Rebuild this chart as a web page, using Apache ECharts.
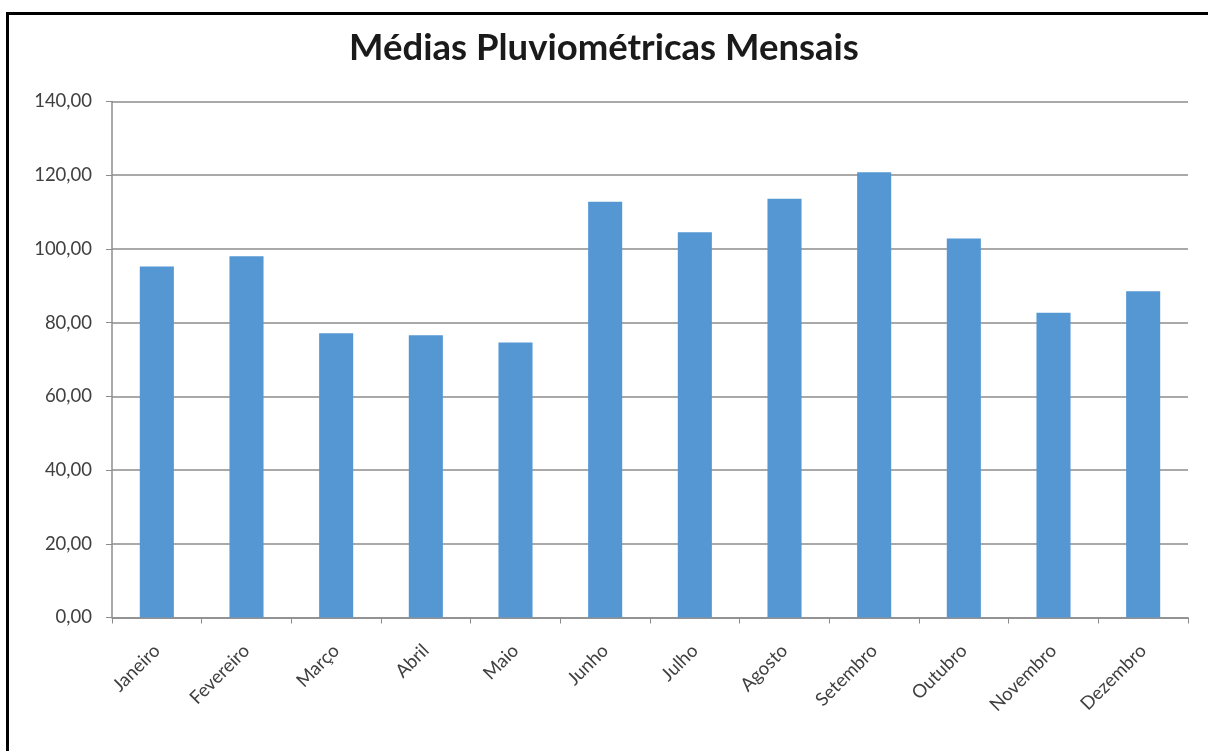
<!DOCTYPE html>
<html>
<head>
<meta charset="utf-8">
<script src="https://cdn.jsdelivr.net/npm/echarts@6/dist/echarts.min.js"></script>
<style>
  html, body { margin: 0; padding: 0; background: #fff; }
  #chart { width: 1208px; height: 751px; }
</style>
</head>
<body>
<div id="chart"></div>
<script>
// Monthly average rainfall
const months = ['Janeiro', 'Fevereiro', 'Março', 'Abril', 'Maio', 'Junho',
                'Julho', 'Agosto', 'Setembro', 'Outubro', 'Novembro', 'Dezembro'];
const rainfall = [95.2, 98.0, 77.1, 76.6, 74.6, 112.8, 104.5, 113.6, 120.8, 102.8, 82.7, 88.5];
const yTicks = [0, 20, 40, 60, 80, 100, 120, 140];

const FONT = 'Lato, "Open Sans", sans-serif';
const AXIS_GRAY = '#8c8c8c';

const chart = echarts.init(document.getElementById('chart'), null, { renderer: 'canvas' });

chart.setOption({
  backgroundColor: '#ffffff',
  animation: false,
  title: {
    text: 'Médias Pluviométricas Mensais',
    left: 'center',
    top: 25,
    textStyle: { fontFamily: FONT, fontWeight: 'bold', fontSize: 36.5, color: '#1a1a1a' }
  },
  grid: { left: 112, right: 20, top: 101.5, bottom: 133.5, containLabel: false },
  xAxis: {
    type: 'category',
    data: months,
    boundaryGap: true,
    axisLine: { show: true, lineStyle: { color: AXIS_GRAY, width: 1.5 } },
    axisTick: { show: true, alignWithLabel: false, length: 6, lineStyle: { color: AXIS_GRAY } },
    axisLabel: {
      rotate: 45, margin: 30, interval: 0,
      fontFamily: FONT, fontSize: 18.5, color: '#404040'
    },
    splitLine: { show: false }
  },
  yAxis: {
    type: 'value',
    min: yTicks[0],
    max: yTicks[yTicks.length - 1],
    interval: yTicks[1] - yTicks[0],
    axisLine: { show: true, lineStyle: { color: AXIS_GRAY, width: 1.5 } },
    axisTick: { show: true, inside: false, length: 6, lineStyle: { color: AXIS_GRAY } },
    axisLabel: {
      margin: 20,
      fontFamily: FONT, fontSize: 18.5, color: '#404040',
      formatter: v => v.toFixed(2).replace('.', ',')
    },
    splitLine: { show: true, lineStyle: { color: AXIS_GRAY, width: 1.5 } }
  },
  series: [{
    type: 'bar',
    data: rainfall,
    barWidth: '38%',
    itemStyle: { color: '#5597d3' }
  }],
  graphic: [
    // frame around the chart area (left and top edges)
    { type: 'line', shape: { x1: 7.5, y1: 12, x2: 7.5, y2: 751 }, style: { stroke: '#000', lineWidth: 3 } },
    { type: 'line', shape: { x1: 6, y1: 13.5, x2: 1208, y2: 13.5 }, style: { stroke: '#000', lineWidth: 3 } }
  ]
});
</script>
</body>
</html>
